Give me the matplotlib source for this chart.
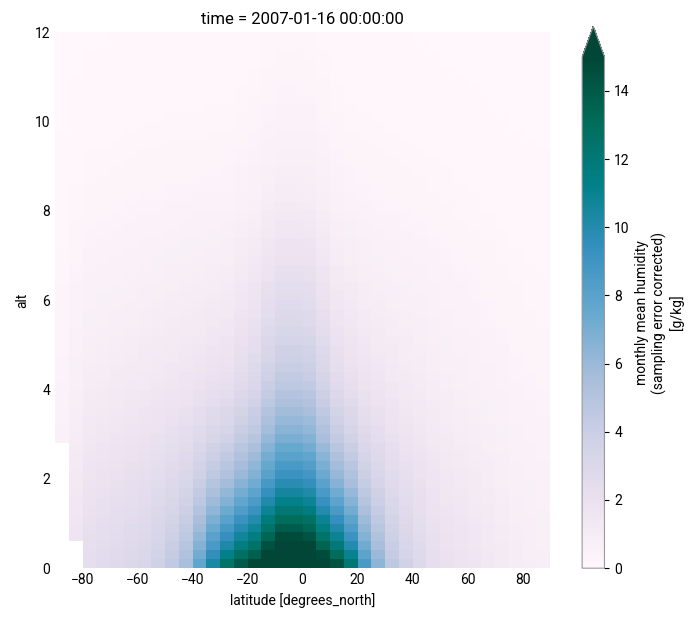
import numpy as np
import matplotlib.pyplot as plt

plt.rcParams['font.family'] = ['Roboto', 'DejaVu Sans']

# latitude edges (5 degree bins) and altitude edges (0.2 km levels)
lat_edges = np.arange(-90, 91, 5)
alt_edges = np.arange(0, 12.01, 0.2)

# humidity [g/kg], split into three parts per latitude bin:
# a broad background, a tropical band near the ground and a narrow deep core
q_background = [1.0, 1.8, 2.4, 2.6, 2.8, 3.0, 3.2, 3.4, 3.6, 3.7, 3.8, 3.9,
                4.0, 4.0, 4.0, 4.0, 4.0, 4.0, 4.0, 4.0, 3.9, 3.8, 3.6, 3.4,
                3.1, 2.8, 2.6, 2.3, 2.0, 1.8, 1.6, 1.4, 1.2, 1.0, 0.9, 0.8]
q_band = [0.0, 0.0, 0.0, 0.0, 0.0, 0.0, 0.0, 0.3, 0.8, 1.8, 4.0, 6.5,
          8.5, 9.0, 9.0, 9.0, 9.0, 9.0, 9.0, 9.0, 9.5, 8.0, 5.0, 3.0,
          1.5, 0.8, 0.3, 0.0, 0.0, 0.0, 0.0, 0.0, 0.0, 0.0, 0.0, 0.0]
q_core = [0.0, 0.0, 0.0, 0.0, 0.0, 0.0, 0.0, 0.0, 0.0, 0.0, 0.0, 0.0,
          0.0, 1.0, 2.0, 4.0, 5.5, 5.5, 5.0, 3.0, 1.0, 0.3, 0.0, 0.0,
          0.0, 0.0, 0.0, 0.0, 0.0, 0.0, 0.0, 0.0, 0.0, 0.0, 0.0, 0.0]

# fraction of the ground value per 0.2 km level
profile_slow = [1.0, 0.97, 0.94, 0.91, 0.88,
                0.85, 0.82, 0.79, 0.76, 0.73,
                0.70, 0.67, 0.64, 0.61, 0.58,
                0.55, 0.52, 0.50, 0.47, 0.45,
                0.42, 0.40, 0.38, 0.36, 0.35,
                0.33, 0.31, 0.29, 0.28, 0.26,
                0.25, 0.24, 0.22, 0.21, 0.19,
                0.18, 0.17, 0.15, 0.14, 0.13,
                0.12, 0.11, 0.10, 0.095, 0.088,
                0.080, 0.074, 0.067, 0.061, 0.055,
                0.050, 0.046, 0.042, 0.038, 0.034,
                0.030, 0.028, 0.026, 0.024, 0.022]
profile_fast = [1.0, 0.88, 0.77, 0.68, 0.61,
                0.55, 0.48, 0.42, 0.37, 0.32,
                0.28, 0.25, 0.22, 0.19, 0.16,
                0.14, 0.125, 0.11, 0.095, 0.08,
                0.07, 0.062, 0.054, 0.047, 0.041,
                0.035, 0.032, 0.029, 0.026, 0.023,
                0.02, 0.018, 0.016, 0.014, 0.012,
                0.01, 0.01, 0.01, 0.01, 0.01,
                0.0, 0.0, 0.0, 0.0, 0.0,
                0.0, 0.0, 0.0, 0.0, 0.0,
                0.0, 0.0, 0.0, 0.0, 0.0,
                0.0, 0.0, 0.0, 0.0, 0.0]

# number of missing levels at the bottom of the first two columns
missing_levels = {0: 14, 1: 3}

q = (np.outer(profile_slow, q_background) + np.outer(profile_fast, q_band)
     + np.outer(profile_slow, q_core))
for col, n in missing_levels.items():
    q[:n, col] = np.nan

fig = plt.figure(figsize=(6.98, 6.23), dpi=100)
ax = fig.add_axes([0.079, 0.088, 0.709, 0.86])
cax = fig.add_axes([0.834, 0.088, 0.032, 0.87])

mesh = ax.pcolormesh(lat_edges, alt_edges, np.ma.masked_invalid(q),
                     cmap='PuBuGn', vmin=0, vmax=15)
ax.set_xlim(-90, 90)
ax.set_ylim(0, 12)
for s in ax.spines.values():
    s.set_visible(False)
ax.tick_params(length=0)
ax.set_xlabel("latitude [degrees_north]")
ax.set_ylabel("alt")
ax.set_title("time = 2007-01-16 00:00:00")

cb = fig.colorbar(mesh, cax=cax, extend='max', extendfrac=0.06)
cb.outline.set_edgecolor('#999999')
cb.set_label("monthly mean humidity\n(sampling error corrected)\n[g/kg]")

fig.savefig("out.png", dpi=100)
